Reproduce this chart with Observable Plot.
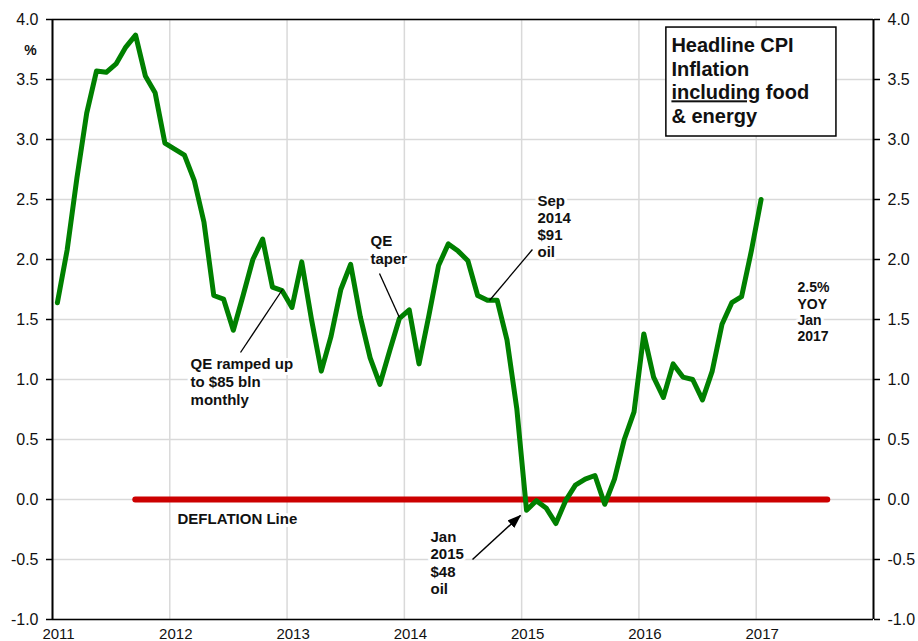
<!DOCTYPE html>
<html>
<head>
<meta charset="utf-8">
<script src="https://cdn.jsdelivr.net/npm/d3@7"></script>
<script src="https://cdn.jsdelivr.net/npm/@observablehq/plot@0.6"></script>
<style>
html, body { margin: 0; padding: 0; background: #fff; overflow: hidden; }
</style>
</head>
<body>
<div id="chart"></div>
<script>
// ---- Data ----
const firstYear = 2011;            // series starts Jan 2011, monthly
const cpiYoY = [
  // 2011
  1.64, 2.08, 2.68, 3.22, 3.57, 3.56, 3.63, 3.77, 3.87, 3.53, 3.39, 2.97,
  // 2012
  2.92, 2.87, 2.66, 2.31, 1.70, 1.67, 1.41, 1.70, 2.00, 2.17, 1.77, 1.74,
  // 2013
  1.60, 1.98, 1.50, 1.07, 1.36, 1.75, 1.96, 1.52, 1.18, 0.96, 1.24, 1.51,
  // 2014
  1.58, 1.13, 1.53, 1.95, 2.13, 2.07, 1.99, 1.70, 1.66, 1.66, 1.33, 0.76,
  // 2015
  -0.09, -0.01, -0.07, -0.20, -0.01, 0.12, 0.17, 0.20, -0.04, 0.17, 0.50, 0.73,
  // 2016
  1.38, 1.02, 0.85, 1.13, 1.02, 1.00, 0.83, 1.07, 1.46, 1.64, 1.69, 2.07,
  // 2017
  2.50
];
const xDomain = [2011, 2018];
const yDomain = [-1, 4];
const xTicks = [2011, 2012, 2013, 2014, 2015, 2016, 2017];
const yTicks = [-1.0, -0.5, 0.0, 0.5, 1.0, 1.5, 2.0, 2.5, 3.0, 3.5, 4.0];
const deflationLine = [{x1: 2011.71, x2: 2017.61, y: 0}];

const notes = [
  {label: "QE ramped up\nto $85 bln\nmonthly", x: 2012.177, y: 0.983, size: 15, lh: 1.2},
  {label: "QE\ntaper", x: 2013.711, y: 2.083, size: 15, lh: 1.2},
  {label: "Sep\n2014\n$91\noil", x: 2015.135, y: 2.279, size: 15, lh: 1.13},
  {label: "Jan\n2015\n$48\noil", x: 2014.223, y: -0.525, size: 15, lh: 1.15},
  {label: "DEFLATION Line", x: 2012.066, y: -0.158, size: 15, lh: 1.2},
  {label: "2.5%\nYOY\nJan\n2017", x: 2017.352, y: 1.567, size: 14, lh: 1.15}
];
const leaderLines = [
  {x1: 2012.603, y1: 1.225, x2: 2012.961, y2: 1.75},
  {x1: 2013.788, y1: 1.883, x2: 2013.958, y2: 1.517},
  {x1: 2015.092, y1: 2.083, x2: 2014.726, y2: 1.658}
];
const arrowLines = [{x1: 2014.581, y1: -0.50, x2: 2014.99, y2: -0.133}];
const titleBox = [{x1: 2016.234, x2: 2017.684, y1: 3.933, y2: 3.025}];
const titleText = [{label: "Headline CPI\nInflation\nincluding food\n& energy", x: 2016.277, y: 3.496}];
const unitLabel = [{label: "%", x: 2010.812, y: 3.742}];

// ---- Build table ----
const series = cpiYoY.map((v, i) => ({t: firstYear + (i + 0.5) / 12, v}));

const fmtY = d => d.toFixed(1);
const font = "'Liberation Sans', Arial, Helvetica, sans-serif";

const noteMarks = notes.map(d => Plot.text([d], {
  x: "x", y: "y", text: "label", textAnchor: "start", lineAnchor: "middle",
  fontWeight: "bold", fontSize: d.size, lineHeight: d.lh, fill: "#111",
  stroke: "white", strokeWidth: 6
}));

const chart = Plot.plot({
  width: 918,
  height: 641,
  marginLeft: 52,
  marginRight: 45,
  marginTop: 19,
  marginBottom: 22,
  style: {fontFamily: font, background: "white", color: "#111", overflow: "visible"},
  x: {domain: xDomain},
  y: {domain: yDomain},
  marks: [
    Plot.gridX({ticks: xTicks, stroke: "#d9d9d9", strokeOpacity: 1, strokeWidth: 1.5}),
    Plot.gridY({ticks: yTicks, stroke: "#d9d9d9", strokeOpacity: 1, strokeWidth: 1.5}),
    Plot.axisY({ticks: yTicks, anchor: "left", tickSize: 6, tickPadding: 8, fontSize: 16,
      tickFormat: fmtY, label: null, stroke: "black", strokeWidth: 1.5, fill: "#111"}),
    Plot.axisY({ticks: yTicks, anchor: "right", tickSize: 6, tickPadding: 8, fontSize: 16,
      tickFormat: fmtY, label: null, stroke: "black", strokeWidth: 1.5, fill: "#111"}),
    Plot.axisX({ticks: xTicks, anchor: "bottom", tickSize: 0, tickPadding: 9, fontSize: 15,
      tickFormat: d => String(d), label: null, dx: 6, fill: "#111"}),
    Plot.ruleY(yDomain, {stroke: "black", strokeWidth: 1.5}),
    Plot.ruleX(xDomain, {stroke: "black", strokeWidth: 2}),
    Plot.ruleY(deflationLine, {x1: "x1", x2: "x2", y: "y", stroke: "#cc0000", strokeWidth: 6, strokeLinecap: "round"}),
    Plot.line(series, {x: "t", y: "v", stroke: "#008000", strokeWidth: 5, strokeLinejoin: "round"}),
    ...noteMarks,
    Plot.link(leaderLines, {x1: "x1", y1: "y1", x2: "x2", y2: "y2", stroke: "black", strokeWidth: 1.3}),
    Plot.link(arrowLines, {x1: "x1", y1: "y1", x2: "x2", y2: "y2", stroke: "black", strokeWidth: 1.5, ariaDescription: "jan-arrow"}),
    Plot.rect(titleBox, {x1: "x1", x2: "x2", y1: "y1", y2: "y2", fill: "white", stroke: "black", strokeWidth: 1.5}),
    Plot.text(titleText, {x: "x", y: "y", text: "label", textAnchor: "start", lineAnchor: "middle",
      fontWeight: "bold", fontSize: 20, lineHeight: 1.18, fill: "#111", ariaDescription: "title-text"}),
    Plot.text(unitLabel, {x: "x", y: "y", text: "label", textAnchor: "middle", fontWeight: "bold", fontSize: 14, fill: "#111"})
  ]
});

document.getElementById("chart").appendChild(chart);

// Filled arrowhead for the Jan 2015 pointer
const svg = d3.select(chart);
const defs = svg.insert("defs", ":first-child");
defs.append("marker")
  .attr("id", "ahead")
  .attr("viewBox", "0 0 14 10")
  .attr("refX", 13).attr("refY", 5)
  .attr("markerWidth", 14).attr("markerHeight", 10)
  .attr("markerUnits", "userSpaceOnUse")
  .attr("orient", "auto")
  .append("path").attr("d", "M0,0L14,5L0,10Z").attr("fill", "black");
svg.selectAll("g[aria-description='jan-arrow'] path").attr("marker-end", "url(#ahead)");

// Underline "including" in the title box
svg.selectAll("tspan").filter(function() { return this.textContent === "including food"; })
  .each(function() {
    const t = d3.select(this);
    t.text(null);
    t.append("tspan").attr("text-decoration", "underline").text("including");
    t.append("tspan").text(" food");
  });
</script>
</body>
</html>
